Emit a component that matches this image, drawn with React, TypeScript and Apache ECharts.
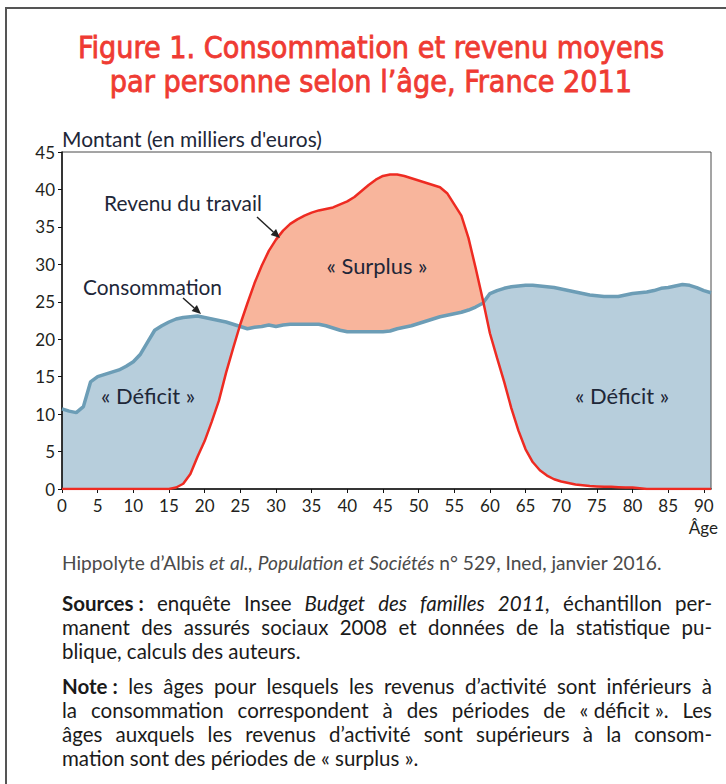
import React, { useEffect, useRef } from "react";
import * as echarts from "echarts";

// ---------- data ----------
const ages = [
  0, 1, 2, 3, 4, 5, 6, 7, 8, 9, 10, 11, 12, 13, 14, 15, 16, 17, 18, 19, 20, 21, 22, 23, 24, 25, 26, 27, 28, 29,
  30, 31, 32, 33, 34, 35, 36, 37, 38, 39, 40, 41, 42, 43, 44, 45, 46, 47, 48, 49, 50, 51, 52, 53, 54, 55, 56, 57, 58, 59,
  60, 61, 62, 63, 64, 65, 66, 67, 68, 69, 70, 71, 72, 73, 74, 75, 76, 77, 78, 79, 80, 81, 82, 83, 84, 85, 86, 87, 88, 89,
  90, 91,
];
const consumption = [
  10.7, 10.4, 10.2, 11.0, 14.3, 15.0, 15.3, 15.6, 15.9, 16.4, 17.0, 18.0, 19.6, 21.2, 21.8, 22.3, 22.7, 22.9, 23.0, 23.1,
  22.9, 22.7, 22.5, 22.3, 22.0, 21.7, 21.4, 21.6, 21.7, 21.9, 21.7, 21.9, 22.0, 22.0, 22.0, 22.0, 22.0, 21.8, 21.5, 21.2,
  21.0, 21.0, 21.0, 21.0, 21.0, 21.0, 21.1, 21.4, 21.6, 21.8, 22.1, 22.4, 22.7, 23.0, 23.2, 23.4, 23.6, 23.9, 24.3, 24.8,
  26.1, 26.5, 26.8, 27.0, 27.1, 27.2, 27.2, 27.1, 27.0, 26.9, 26.7, 26.5, 26.3, 26.1, 25.9, 25.8, 25.7, 25.7, 25.7, 25.9,
  26.1, 26.2, 26.3, 26.5, 26.8, 26.9, 27.1, 27.3, 27.2, 26.9, 26.5, 26.2,
];
const revenue = [
  0, 0, 0, 0, 0, 0, 0, 0, 0, 0, 0, 0, 0, 0, 0, 0, 0.2, 0.7, 2.0, 4.3,
  6.4, 9.0, 11.8, 15.5, 18.8, 22.0, 24.8, 27.5, 29.8, 31.8, 33.3, 34.5, 35.4, 36.0, 36.5, 36.9, 37.2, 37.4, 37.6, 38.0,
  38.4, 39.0, 39.8, 40.6, 41.3, 41.8, 42.0, 42.0, 41.8, 41.5, 41.2, 40.9, 40.6, 40.3, 39.5, 38.0, 36.5, 33.5, 29.5, 25.3,
  20.8, 17.5, 14.3, 10.8, 7.8, 5.3, 3.6, 2.5, 1.8, 1.3, 1.0, 0.8, 0.6, 0.5, 0.4, 0.35, 0.3, 0.3, 0.25, 0.2,
  0.2, 0.1, 0, 0, 0, 0, 0, 0, 0, 0, 0, 0,
];
const xTickValues = [0, 5, 10, 15, 20, 25, 30, 35, 40, 45, 50, 55, 60, 65, 70, 75, 80, 85, 90];

const TITLE_1 = "Figure 1. Consommation et revenu moyens";
const TITLE_2 = "par personne selon l\u2019\u00e2ge, France 2011";
const Y_NAME = "Montant (en milliers d'euros)";
const X_NAME = "\u00c2ge";
const LBL_REVENU = "Revenu du travail";
const LBL_CONSO = "Consommation";
const LBL_SURPLUS = "\u00ab Surplus \u00bb";
const LBL_DEFICIT = "\u00ab D\u00e9ficit \u00bb";
const SOURCE_LINE = "Hippolyte d\u2019Albis et al., Population et Soci\u00e9t\u00e9s n\u00b0 529, Ined, janvier 2016.";
const REF_BODY_LINE = "manent des assur\u00e9s sociaux 2008 et donn\u00e9es de la statistique pu-";

// ---------- helpers ----------
const measureCtx = (typeof document !== "undefined"
  ? document.createElement("canvas").getContext("2d")
  : null) as CanvasRenderingContext2D | null;
function measure(text: string, font: string) {
  if (!measureCtx) return text.length * 8;
  measureCtx.font = font;
  return measureCtx.measureText(text).width;
}
function fitSize(text: string, family: string, target: number, weight = "normal") {
  return (100 * target) / measure(text, `${weight} 100px ${family}`);
}

type Seg = { t: string; b?: boolean; i?: boolean };
function layoutLine(segs: Seg[], x0: number, y: number, width: number, size: number, family: string, color: string, justify: boolean, lh?: number) {
  const toks: Seg[] = [];
  segs.forEach((s) => s.t.split(" ").filter((w) => w.length).forEach((w) => toks.push({ t: w, b: s.b, i: s.i })));
  const fontOf = (tk: Seg) => `${tk.i ? "italic" : "normal"} ${tk.b ? "bold" : "normal"} ${size}px ${family}`;
  const widths = toks.map((tk) => measure(tk.t, fontOf(tk)));
  const sum = widths.reduce((a, b) => a + b, 0);
  const space = measure(" ", `${size}px ${family}`);
  const gap = justify && toks.length > 1 ? Math.max(2, (width - sum) / (toks.length - 1)) : space;
  let x = x0;
  return toks.map((tk, k) => {
    const el = {
      type: "text",
      x,
      y,
      silent: true,
      style: {
        text: tk.t,
        fill: color,
        fontSize: size,
        lineHeight: lh ?? Math.round(size * 1.2),
        fontFamily: family,
        fontWeight: tk.b ? "bold" : "normal",
        fontStyle: tk.i ? "italic" : "normal",
        align: "left",
        verticalAlign: "middle",
      },
    };
    x += widths[k] + gap;
    return el;
  });
}

function arrow(x1: number, y1: number, x2: number, y2: number, color: string) {
  const dx = x2 - x1, dy = y2 - y1, L = Math.hypot(dx, dy);
  const ux = dx / L, uy = dy / L;
  const hl = 9, hw = 4;
  const bx = x2 - ux * hl, by = y2 - uy * hl;
  return [
    { type: "line", silent: true, z: 100, shape: { x1, y1, x2: bx, y2: by }, style: { stroke: color, lineWidth: 1.5 } },
    {
      type: "polygon",
      silent: true,
      z: 100,
      shape: { points: [[x2, y2], [bx - uy * hw, by + ux * hw], [bx + uy * hw, by - ux * hw]] },
      style: { fill: color },
    },
  ];
}

export default function App() {
  const ref = useRef<HTMLDivElement>(null);
  useEffect(() => {
    document.body.style.margin = "0";
    if (!ref.current) return;
    const chart = echarts.init(ref.current, undefined, { renderer: "svg" });

    // curves with crossing points inserted, for the fills
    const fx: number[] = [], fc: number[] = [], fr: number[] = [];
    for (let i = 0; i < ages.length; i++) {
      fx.push(ages[i]); fc.push(consumption[i]); fr.push(revenue[i]);
      if (i < ages.length - 1) {
        const d0 = consumption[i] - revenue[i], d1 = consumption[i + 1] - revenue[i + 1];
        if (d0 * d1 < 0) {
          const t = d0 / (d0 - d1);
          const v = consumption[i] + t * (consumption[i + 1] - consumption[i]);
          fx.push(ages[i] + t * (ages[i + 1] - ages[i])); fc.push(v); fr.push(v);
        }
      }
    }
    const revFill = fx.map((x, k) => [x, fr[k]]);
    const conFill = fx.map((x, k) => [x, fc[k]]);
    const minFill = fx.map((x, k) => [x, Math.min(fc[k], fr[k])]);

    const LATO = "Lato";
    const TITLE_FONT = "'DejaVu Sans Condensed', 'Roboto', sans-serif";
    const titleSize = (fitSize(TITLE_1, TITLE_FONT, 589) + fitSize(TITLE_2, TITLE_FONT, 520)) / 2;
    const annSize = fitSize(LBL_REVENU, LATO, 158);
    const yNameSize = fitSize(Y_NAME, LATO, 260);
    const srcSize = fitSize(SOURCE_LINE, LATO, 612);
    const bodySize = Math.min(20.5, fitSize(REF_BODY_LINE, LATO, 638));
    const textDark = "#1e2738";
    const titleColor = "#ef3b33";

    const footer: any[] = [];
    footer.push(
      ...layoutLine(
        [{ t: "Hippolyte d\u2019Albis " }, { t: "et al.,", i: true }, { t: "Population et Soci\u00e9t\u00e9s", i: true }, { t: "n\u00b0 529, Ined, janvier 2016." }],
        62, 562, 616, srcSize, LATO, "#4a4a4a", false
      )
    );
    const bodyColor = "#1a1a1a";
    const paraLines: [Seg[], number, boolean][] = [
      [[{ t: "Sources\u00a0:", b: true }, { t: "enqu\u00eate Insee" }, { t: "Budget des familles 2011,", i: true }, { t: "\u00e9chantillon per-" }], 603, true],
      [[{ t: REF_BODY_LINE }], 627, true],
      [[{ t: "blique, calculs des auteurs." }], 651, false],
      [[{ t: "Note\u00a0:", b: true }, { t: "les \u00e2ges pour lesquels les revenus d\u2019activit\u00e9 sont inf\u00e9rieurs \u00e0" }], 686, true],
      [[{ t: "la consommation correspondent \u00e0 des p\u00e9riodes de \u00ab\u00a0d\u00e9ficit\u00a0\u00bb. Les" }], 710, true],
      [[{ t: "\u00e2ges auxquels les revenus d\u2019activit\u00e9 sont sup\u00e9rieurs \u00e0 la consom-" }], 734, true],
      [[{ t: "mation sont des p\u00e9riodes de \u00ab\u00a0surplus\u00a0\u00bb." }], 758, false],
    ];
    paraLines.forEach(([segs, y, j]) => footer.push(...layoutLine(segs, 62, y, 650, bodySize, LATO, bodyColor, j, 22)));

    const ann = (text: string, x: number, y: number, align: string, size = annSize) => ({
      type: "text",
      x,
      y,
      silent: true,
      z: 100,
      style: { text, fill: textDark, fontSize: size, fontFamily: LATO, align, verticalAlign: "middle" },
    });

    const noLine = { width: 0, opacity: 0 };
    const option: any = {
      animation: false,
      backgroundColor: "#ffffff",
      grid: { left: 62, right: 15, top: 152, bottom: 295, show: true, borderColor: "#4a4a4a", borderWidth: 1, z: 6 },
      xAxis: {
        type: "value",
        min: 0,
        max: 91,
        interval: 5,
        z: 6,
        axisLine: { show: true, onZero: false, lineStyle: { color: "#111", width: 1.5 } },
        axisTick: { show: true, customValues: xTickValues, length: 4, lineStyle: { color: "#111" } },
        axisLabel: { customValues: xTickValues, fontSize: 17, fontFamily: LATO, color: "#231f20", margin: 8 },
        splitLine: { show: false },
      },
      yAxis: {
        type: "value",
        min: 0,
        max: 45,
        interval: 5,
        z: 6,
        axisLine: { show: true, lineStyle: { color: "#111", width: 1.5 } },
        axisTick: { show: true, length: 4, lineStyle: { color: "#111" } },
        axisLabel: { fontSize: 17, fontFamily: LATO, color: "#231f20", margin: 7 },
        splitLine: { show: false },
      },
      series: [
        { type: "line", data: revFill, symbol: "none", silent: true, lineStyle: noLine, areaStyle: { color: "#f8b59c", opacity: 1 }, z: 1 },
        { type: "line", data: conFill, symbol: "none", silent: true, lineStyle: noLine, areaStyle: { color: "#b7cedc", opacity: 1 }, z: 2 },
        { type: "line", data: minFill, symbol: "none", silent: true, lineStyle: noLine, areaStyle: { color: "#ffffff", opacity: 1 }, z: 3 },
        {
          name: "Consommation", type: "line", data: ages.map((a, i) => [a, consumption[i]]), symbol: "none",
          lineStyle: { color: "#6c9db6", width: 3.5 }, z: 8,
        },
        {
          name: "Revenu du travail", type: "line", data: ages.map((a, i) => [a, revenue[i]]), symbol: "none",
          lineStyle: { color: "#ee2b22", width: 2.5 }, z: 9,
        },
      ],
      graphic: [
        { type: "rect", silent: true, shape: { x: 6, y: 8, width: 800, height: 800 }, style: { fill: "none", stroke: "#555", lineWidth: 2 } },
        {
          type: "text", x: 371, y: 47, silent: true,
          style: {
            text: TITLE_1, fill: titleColor, stroke: titleColor, lineWidth: 0.8,
            fontSize: titleSize, fontFamily: TITLE_FONT, align: "center", verticalAlign: "middle",
          },
        },
        {
          type: "text", x: 371, y: 81, silent: true,
          style: {
            text: TITLE_2, fill: titleColor, stroke: titleColor, lineWidth: 0.8,
            fontSize: titleSize, fontFamily: TITLE_FONT, align: "center", verticalAlign: "middle",
          },
        },
        {
          type: "text", x: 62, y: 138, silent: true,
          style: { text: Y_NAME, fill: textDark, fontSize: yNameSize, fontFamily: LATO, align: "left", verticalAlign: "middle" },
        },
        {
          type: "text", x: 718, y: 527, silent: true,
          style: { text: X_NAME, fill: "#231f20", fontSize: 17, fontFamily: LATO, align: "right", verticalAlign: "middle" },
        },
        ann(LBL_REVENU, 104, 202, "left"),
        ann(LBL_CONSO, 83, 286, "left"),
        ann(LBL_SURPLUS, 377, 265, "center", annSize * 1.05),
        ann(LBL_DEFICIT, 148, 395, "center", annSize * 1.05),
        ann(LBL_DEFICIT, 622, 395, "center", annSize * 1.05),
        ...arrow(257, 217, 280, 238, "#222"),
        ...arrow(183, 298, 201, 314, "#222"),
        ...footer,
      ],
    };
    chart.setOption(option);
    return () => chart.dispose();
  }, []);
  return <div ref={ref} style={{ position: "absolute", left: 0, top: 0, width: 726, height: 784 }} />;
}
